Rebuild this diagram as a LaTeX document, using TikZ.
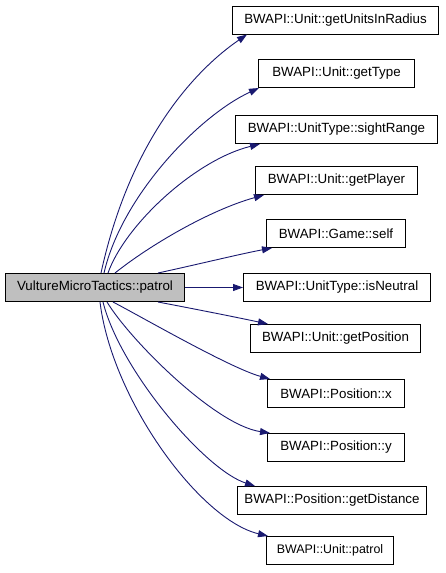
\documentclass[tikz,border=0pt]{standalone}
\usepackage{fontspec}
\setmainfont{Liberation Sans}
\usetikzlibrary{arrows.meta,calc}
\definecolor{edgeblue}{HTML}{191970}
\definecolor{maingrey}{HTML}{BFBFBF}
\begin{document}
\begin{tikzpicture}[x=1pt,y=-1pt,
  fbox/.style={draw=black,line width=1pt,inner sep=0pt,minimum height=28pt,anchor=north west,
    font=\fontsize{13.33}{16}\selectfont,fill=white},
  link/.style={draw=edgeblue,line width=0.9pt,-{Triangle[length=10pt,width=7pt]}}]
\useasboundingbox (0,0) rectangle (445,573);
\node[fbox,fill=maingrey,minimum width=179pt] (main) at (5,273) {VultureMicroTactics::patrol};
\node[fbox,minimum width=206pt] (t1) at (232,5.5) {BWAPI::Unit::getUnitsInRadius};
\node[fbox,minimum width=156pt] (t2) at (258,59) {BWAPI::Unit::getType};
\node[fbox,minimum width=202pt] (t3) at (235,115) {BWAPI::UnitType::sightRange};
\node[fbox,minimum width=162pt] (t4) at (255,166) {BWAPI::Unit::getPlayer};
\node[fbox,minimum width=139pt] (t5) at (266,219) {BWAPI::Game::self};
\node[fbox,minimum width=187pt] (t6) at (243,273) {BWAPI::UnitType::isNeutral};
\node[fbox,minimum width=170pt] (t7) at (250,324) {BWAPI::Unit::getPosition};
\node[fbox,minimum width=137pt] (t8) at (267,379) {BWAPI::Position::x};
\node[fbox,minimum width=137pt] (t9) at (267,433) {BWAPI::Position::y};
\node[fbox,minimum width=189pt] (t10) at (237,486) {BWAPI::Position::getDistance};
\node[fbox,minimum width=127pt,font=\fontsize{12.4}{16}\selectfont] (t11) at (266,536) {BWAPI::Unit::patrol};

\draw[link] ($(main.north west)+(96,0)$) .. controls (130,140) and (195,70) .. ($(t1.south west)+(15,0)$);
\draw[link] ($(main.north west)+(99,0)$) .. controls (122,195) and (200,115) .. ($(t2.south west)+(1,0)$);
\draw[link] ($(main.north west)+(103,0)$) .. controls (125,225) and (195,160) .. ($(t3.south west)+(25,0)$);
\draw[link] ($(main.north west)+(110,0)$) .. controls (150,245) and (210,210) .. ($(t4.south west)+(9,0)$);
\draw[link] ($(main.north west)+(153,0)$) .. controls (195,265) and (240,254) .. ($(t5.south west)+(6,0)$);
\draw[link] (main.east) -- (t6.west);
\draw[link] ($(main.south west)+(153,0)$) .. controls (200,310) and (240,318) .. ($(t7.north west)+(18,0)$);
\draw[link] ($(main.south west)+(108,0)$) .. controls (140,316) and (230,368) .. ($(t8.north west)+(3,0)$);
\draw[link] ($(main.south west)+(102,0)$) .. controls (130,340) and (215,425) .. ($(t9.north west)+(3,0)$);
\draw[link] ($(main.south west)+(98,0)$) .. controls (120,370) and (205,470) .. ($(t10.north west)+(18,0)$);
\draw[link] ($(main.south west)+(95,0)$) .. controls (112,400) and (200,520) .. ($(t11.north west)+(2,0)$);
\end{tikzpicture}
\end{document}
